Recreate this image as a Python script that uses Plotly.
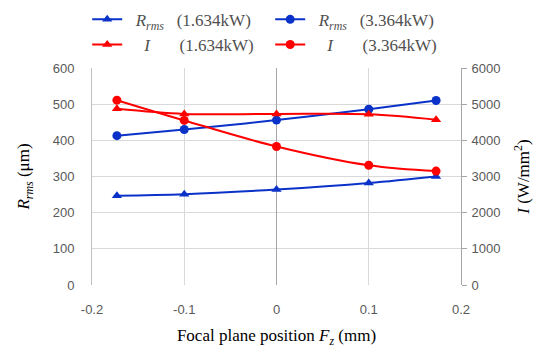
import plotly.graph_objects as go

fz = [-0.173, -0.1, 0.0, 0.1, 0.173]
rrms_1634 = [247, 251, 264, 282, 300]
rrms_3364 = [413, 430, 456, 486, 510]
i_1634 = [4870, 4730, 4730, 4720, 4570]
i_3364 = [5110, 4550, 3830, 3310, 3150]

x_ticks = [-0.2, -0.1, 0, 0.1, 0.2]
x_ticktext = ["-0.2", "-0.1", "0", "0.1", "0.2"]

blue = "#0A32C8"
red = "#FF0000"
sp = "\u00a0"

fig = go.Figure()
fig.add_trace(go.Scatter(x=fz, y=rrms_1634, mode="lines+markers", line=dict(color=blue, width=2, shape="spline"),
                         marker=dict(symbol="triangle-up", size=9, color=blue),
                         name=sp*2 + "<i>R<sub>rms</sub></i>" + sp*3 + "(1.634kW)"))
fig.add_trace(go.Scatter(x=fz, y=rrms_3364, mode="lines+markers", line=dict(color=blue, width=2, shape="spline"),
                         marker=dict(symbol="circle", size=9, color=blue),
                         name=sp*2 + "<i>R<sub>rms</sub></i>" + sp*3 + "(3.364kW)"))
fig.add_trace(go.Scatter(x=fz, y=i_1634, mode="lines+markers", yaxis="y2", line=dict(color=red, width=2, shape="spline"),
                         marker=dict(symbol="triangle-up", size=9, color=red),
                         name=sp*4 + "<i>I</i>" + sp*7 + "(1.634kW)"))
fig.add_trace(go.Scatter(x=fz, y=i_3364, mode="lines+markers", yaxis="y2", line=dict(color=red, width=2, shape="spline"),
                         marker=dict(symbol="circle", size=9, color=red),
                         name=sp*4 + "<i>I</i>" + sp*7 + "(3.364kW)"))

tickfont = dict(family="Liberation Sans", size=13, color="#595959")
fig.update_layout(
    width=550, height=361,
    margin=dict(l=84, r=97, t=60, b=84, autoexpand=False),
    paper_bgcolor="white", plot_bgcolor="white",
    showlegend=True,
    legend=dict(orientation="h", x=-0.013, xanchor="left", y=1.305, yanchor="top",
                entrywidth=138, font=dict(family="Liberation Serif", size=17, color="#505050"),
                tracegroupgap=0, itemwidth=30, bgcolor="rgba(0,0,0,0)"),
    xaxis=dict(range=[-0.2, 0.2], tickvals=x_ticks, ticktext=x_ticktext, tickfont=tickfont,
               showgrid=True, gridcolor="#D9D9D9", gridwidth=1,
               zeroline=True, zerolinecolor="#A6A6A6", zerolinewidth=1,
               showline=False, ticks="", ticklabelstandoff=15,
               title=dict(text="Focal plane position <i>F<sub>z</sub></i> (mm)",
                          font=dict(family="Liberation Serif", size=17, color="#000000"), standoff=13)),
    yaxis=dict(range=[0, 600], dtick=100, tickfont=tickfont,
               showgrid=True, gridcolor="#D9D9D9", gridwidth=1, zeroline=False,
               showline=True, linecolor="#BFBFBF", linewidth=1, ticks="", ticklabelstandoff=14,
               title=dict(text="<i>R<sub>rms</sub></i> (μm)",
                          font=dict(family="Liberation Serif", size=17, color="#000000"), standoff=18)),
    yaxis2=dict(range=[0, 6000], dtick=1000, tickfont=tickfont, overlaying="y", side="right",
                showgrid=False, zeroline=False,
                showline=True, linecolor="#A6A6A6", linewidth=1, ticks="outside", ticklen=5, tickcolor="#A6A6A6",
                ticklabelstandoff=2,
                title=dict(text="<i>I</i> (W/mm<sup>2</sup>)",
                           font=dict(family="Liberation Serif", size=17, color="#000000"), standoff=17)),
)

fig.write_html("out.html")
